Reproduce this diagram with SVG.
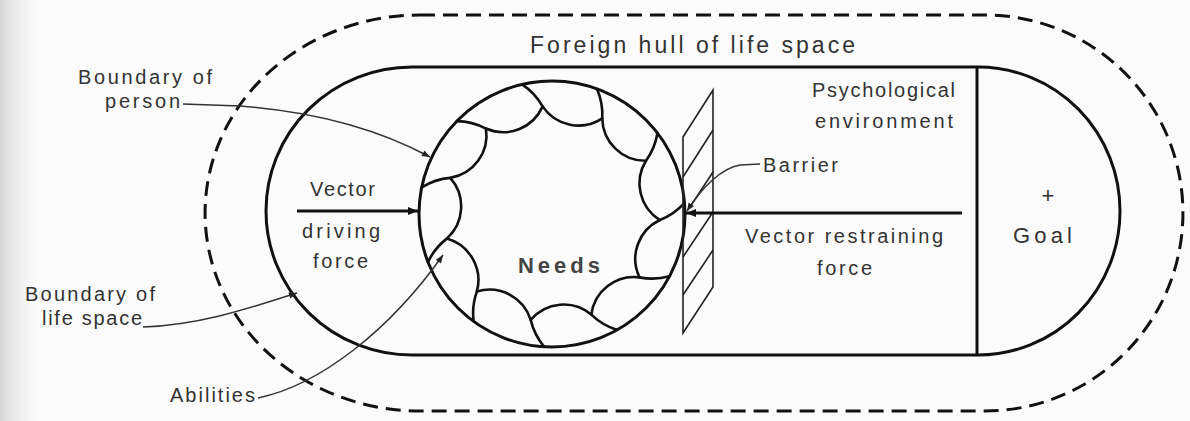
<svg xmlns="http://www.w3.org/2000/svg" xmlns:xlink="http://www.w3.org/1999/xlink" width="1190" height="421" viewBox="0 0 1190 421">
<style>
.t{font-family:"Liberation Sans",Arial,sans-serif;font-size:20px;fill:#333}
.big{font-size:22px}
.title{font-size:23px}
.bold{font-weight:bold;fill:#444}
.dash{fill:none;stroke:#111;stroke-width:3;stroke-dasharray:15 8}
.solid{fill:none;stroke:#111;stroke-width:3}
.leaf{fill:none;stroke:#111;stroke-width:2.6;stroke-linecap:round;stroke-linejoin:round}
.thin{fill:none;stroke:#222;stroke-width:1.6}
.lead{fill:none;stroke:#333;stroke-width:1.5}
.vec{fill:none;stroke:#111;stroke-width:3}
</style>
<defs>
<linearGradient id="scan" x1="0" y1="0" x2="1" y2="0">
<stop offset="0" stop-color="#d6d6d6"/>
<stop offset="1" stop-color="#fbfbfb" stop-opacity="0"/>
</linearGradient>
<marker id="ah" viewBox="0 0 10 10" refX="10" refY="5" markerWidth="10" markerHeight="8" orient="auto" markerUnits="userSpaceOnUse">
<path d="M0,1 L10,5 L0,9 z" fill="#222"/>
</marker>
<marker id="ahb" viewBox="0 0 10 10" refX="10" refY="5" markerWidth="14" markerHeight="10" orient="auto" markerUnits="userSpaceOnUse">
<path d="M0,1 L10,5 L0,9 z" fill="#111"/>
</marker>
<path id="leaf" class="leaf" d="M 522.1,84.4 Q 535,93 542.6,106.4 A 43.1,43.1 0 0 0 602.3,118.4"/>
</defs>
<rect width="1190" height="421" fill="#fbfbfb"/>
<rect width="45" height="421" fill="url(#scan)"/>

<g id="foreign-hull">
<path class="dash" d="M 420,15 L 985,15 A 198,198 0 0 1 985,411 L 420,411 A 215,198 0 0 1 420,15 Z"/>
<text class="t title" x="530" y="53" textLength="325" lengthAdjust="spacing">Foreign hull of life space</text>
</g>

<g id="life-space">
<path class="solid" d="M 412,67 L 978,67 A 142,144 0 0 1 978,355 L 412,355 A 146,144 0 0 1 412,67 Z"/>
<text class="t" x="955" y="97" text-anchor="end" textLength="143" lengthAdjust="spacing">Psychological</text>
<text class="t" x="953" y="128" text-anchor="end" textLength="138" lengthAdjust="spacing">environment</text>
</g>

<g id="goal">
<line class="solid" x1="977" y1="67" x2="977" y2="355"/>
<text class="t big" x="1048" y="203" text-anchor="middle">+</text>
<text class="t big" x="1013" y="243" textLength="59" lengthAdjust="spacing">Goal</text>
</g>

<g id="person">
<circle class="solid" cx="552" cy="214" r="133"/>
<use xlink:href="#leaf"/>
<use xlink:href="#leaf" transform="rotate(32.727 552 214)"/>
<use xlink:href="#leaf" transform="rotate(65.455 552 214)"/>
<use xlink:href="#leaf" transform="rotate(98.182 552 214)"/>
<use xlink:href="#leaf" transform="rotate(130.909 552 214)"/>
<use xlink:href="#leaf" transform="rotate(163.636 552 214)"/>
<use xlink:href="#leaf" transform="rotate(196.364 552 214)"/>
<use xlink:href="#leaf" transform="rotate(229.091 552 214)"/>
<use xlink:href="#leaf" transform="rotate(261.818 552 214)"/>
<use xlink:href="#leaf" transform="rotate(294.545 552 214)"/>
<use xlink:href="#leaf" transform="rotate(327.273 552 214)"/>
<text class="t big bold" x="518" y="273" textLength="82" lengthAdjust="spacing">Needs</text>
</g>

<g id="barrier">
<path class="thin" d="M 683,137 L 713,90 L 713,287 L 683,333 Z"/>
<line class="thin" x1="683" y1="177" x2="713" y2="130"/>
<line class="thin" x1="690" y1="207" x2="713" y2="172"/>
<line class="thin" x1="683" y1="257" x2="713" y2="212"/>
<line class="thin" x1="683" y1="295" x2="713" y2="250"/>
<text class="t" x="763" y="172" textLength="75" lengthAdjust="spacing">Barrier</text>
</g>

<g id="labels">
<text class="t" x="78" y="84" textLength="134" lengthAdjust="spacing">Boundary of</text>
<text class="t" x="105" y="108" textLength="75" lengthAdjust="spacing">person</text>
<text class="t" x="310" y="196" textLength="65" lengthAdjust="spacing">Vector</text>
<text class="t" x="302" y="238" textLength="78" lengthAdjust="spacing">driving</text>
<text class="t" x="313" y="268" textLength="55" lengthAdjust="spacing">force</text>
<text class="t" x="745" y="243" textLength="198" lengthAdjust="spacing">Vector restraining</text>
<text class="t" x="817" y="275" textLength="55" lengthAdjust="spacing">force</text>
<text class="t" x="25" y="301" textLength="130" lengthAdjust="spacing">Boundary of</text>
<text class="t" x="42" y="325" textLength="100" lengthAdjust="spacing">life space</text>
<text class="t" x="170" y="402" textLength="85" lengthAdjust="spacing">Abilities</text>
</g>

<g id="connectors">
<line class="vec" x1="297" y1="211" x2="418" y2="211" marker-end="url(#ahb)"/>
<line class="vec" x1="962" y1="213" x2="686" y2="213" marker-end="url(#ahb)"/>
<path class="lead" d="M 183,104 L 240,106 C 320,112 380,130 430,157" marker-end="url(#ah)"/>
<path class="lead" d="M 143,327 C 200,325 250,308 297,293" marker-end="url(#ah)"/>
<path class="lead" d="M 258,398 C 320,385 390,330 443,255" marker-end="url(#ah)"/>
<path class="lead" d="M 760,164 L 740,165 C 722,168 703,186 687,211" marker-end="url(#ah)"/>
</g>
</svg>
